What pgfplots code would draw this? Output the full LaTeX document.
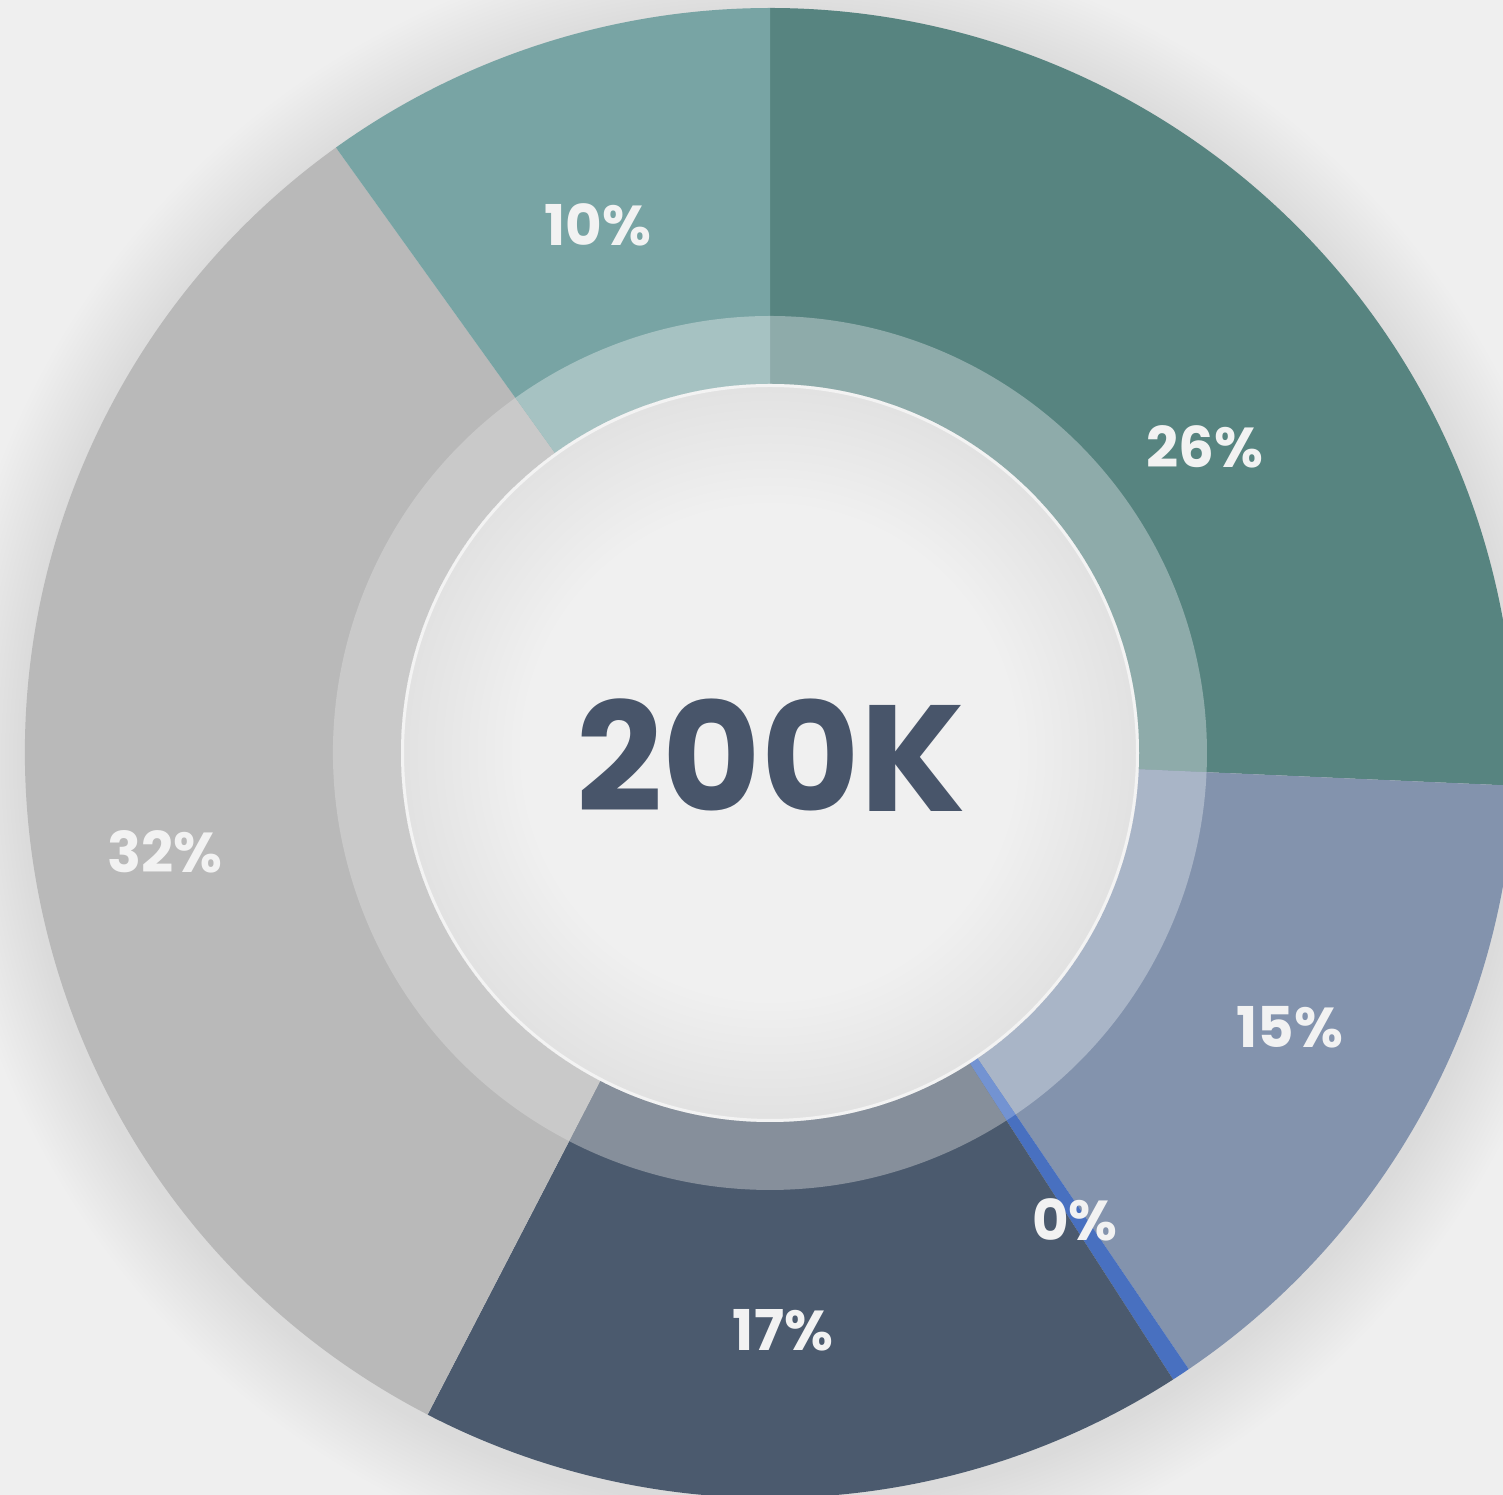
\documentclass[border=0pt]{standalone}
\usepackage{pgfplots}
\pgfplotsset{compat=1.18}
\usepackage{pgfplotstable}
\usepackage{fontspec}
\setmainfont{Poppins}
\definecolor{bg}{HTML}{EFEFEF}
\definecolor{cA}{HTML}{578480} \definecolor{bA}{HTML}{8EABAA}
\definecolor{cB}{HTML}{8393AD} \definecolor{bB}{HTML}{A9B5C7}
\definecolor{cC}{HTML}{4870C0} \definecolor{bC}{HTML}{7393D2}
\definecolor{cD}{HTML}{4B5A6E} \definecolor{bD}{HTML}{868F9B}
\definecolor{cE}{HTML}{B9B9B9} \definecolor{bE}{HTML}{C9C9C9}
\definecolor{cF}{HTML}{78A4A4} \definecolor{bF}{HTML}{A6C2C2}
\definecolor{txt}{HTML}{48556A}
\definecolor{lab}{HTML}{F2F2F2}
\definecolor{hole}{HTML}{F0F0F0}
\tikzset{lbl/.style={text=lab, font=\bfseries\fontsize{16}{18}\selectfont}}
% shares of the ring, in percent, clockwise from the top
\pgfplotstableread{
share label
25.7 26
14.8 15
0.4  0
16.7 17
32.5 32
9.9  10
}\slices
\pgfplotstablegetelem{0}{share}\of\slices \edef\sA{\pgfplotsretval}
\pgfplotstablegetelem{1}{share}\of\slices \edef\sB{\pgfplotsretval}
\pgfplotstablegetelem{2}{share}\of\slices \edef\sC{\pgfplotsretval}
\pgfplotstablegetelem{3}{share}\of\slices \edef\sD{\pgfplotsretval}
\pgfplotstablegetelem{4}{share}\of\slices \edef\sE{\pgfplotsretval}
\pgfplotstablegetelem{5}{share}\of\slices \edef\sF{\pgfplotsretval}
\pgfmathsetmacro\tA{90}
\pgfmathsetmacro\tB{\tA-3.6*\sA}
\pgfmathsetmacro\tC{\tB-3.6*\sB}
\pgfmathsetmacro\tD{\tC-3.6*\sC}
\pgfmathsetmacro\tE{\tD-3.6*\sD}
\pgfmathsetmacro\tF{\tE-3.6*\sE}
\pgfmathsetmacro\tG{\tF-3.6*\sF}
\newcommand\slice[4]{\fill[#4] (axis cs:770,742) -- ++(#1:#3) arc[start angle=#1, end angle=#2, radius=#3] -- cycle;}
\begin{document}
\begin{tikzpicture}
\useasboundingbox (0,0) rectangle (15.03cm,14.95cm);
\clip (0,0) rectangle (15.03cm,14.95cm);
\fill[bg] (0,0) rectangle (15.03cm,14.95cm);
\begin{axis}[scale only axis, width=15.03cm, height=14.95cm,
  xmin=0, xmax=1503, ymin=0, ymax=1495, hide axis, clip=false]
% soft shadow round the ring
\pgfplotsinvokeforeach{1,...,20}{
  \fill[black, opacity=0.0055] (axis cs:770,734) circle[radius=7.45cm+#1*0.04cm];
}
% outer ring
\slice{\tA}{\tB}{7.45cm}{cA}
\slice{\tB}{\tC}{7.45cm}{cB}
\slice{\tC}{\tD}{7.45cm}{cC}
\slice{\tD}{\tE}{7.45cm}{cD}
\slice{\tE}{\tF}{7.45cm}{cE}
\slice{\tF}{\tG}{7.45cm}{cF}
% inner lighter band
\slice{\tA}{\tB}{4.37cm}{bA}
\slice{\tB}{\tC}{4.37cm}{bB}
\slice{\tC}{\tD}{4.37cm}{bC}
\slice{\tD}{\tE}{4.37cm}{bD}
\slice{\tE}{\tF}{4.37cm}{bE}
\slice{\tF}{\tG}{4.37cm}{bF}
% hole, slightly shaded at its rim
\fill[hole] (axis cs:770,742) circle[radius=3.69cm];
\pgfplotsinvokeforeach{1,...,14}{
  \fill[black, opacity=0.0045, even odd rule] (axis cs:770,742) circle[radius=3.69cm] (axis cs:770,742) circle[radius=3.69cm-#1*0.085cm];
}
\draw[white, opacity=0.6, line width=0.03cm] (axis cs:770,742) circle[radius=3.675cm];
\node[text=txt, font=\bfseries\fontsize{43}{48}\selectfont] at (axis cs:771,740) {200K};
\node[lbl] at (axis cs:598,1270) {10\%};
\node[lbl] at (axis cs:1205,1048) {26\%};
\node[lbl] at (axis cs:165,643) {32\%};
\node[lbl] at (axis cs:1290,468) {15\%};
\node[lbl] at (axis cs:1075,275) {0\%};
\node[lbl] at (axis cs:783,165) {17\%};
\end{axis}
\end{tikzpicture}
\end{document}
